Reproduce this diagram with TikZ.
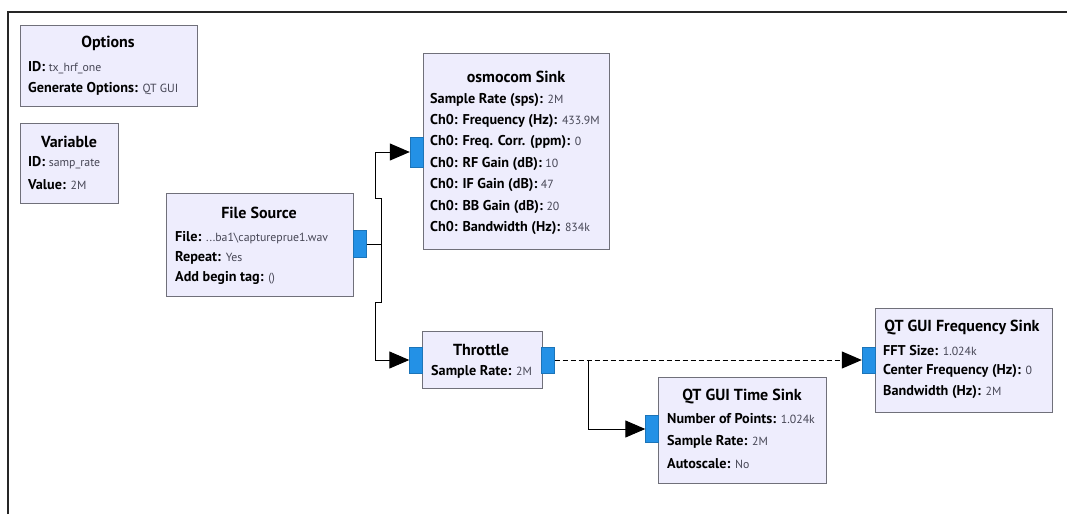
\documentclass[tikz,border=0pt]{standalone}
\usepackage{fontspec}
\setmainfont{PT Sans}
\usetikzlibrary{arrows.meta}
\definecolor{blockfill}{RGB}{238,237,253}
\definecolor{blockline}{RGB}{112,112,122}
\definecolor{portblue}{RGB}{35,145,230}
\definecolor{valgray}{RGB}{70,70,85}
\newcommand\fkey[1]{{\bfseries\fontsize{14.2}{16}\selectfont #1 }}
\newcommand\fval[1]{{\fontsize{11.8}{14}\selectfont\color{valgray}#1}}
\newcommand\blockat[5]{\node[blk, minimum width=#4pt, minimum height=#5pt] (#1) at (#2,#3) {};}
\newcommand\portat[5]{\node[port, minimum width=#4pt, minimum height=#5pt] (#1) at (#2,#3) {};}

\begin{document}
\begin{tikzpicture}[x=1pt,y=-1pt,
  blk/.style={draw=blockline, line width=1.2pt, fill=blockfill, anchor=north west, inner sep=0pt},
  port/.style={draw=portblue!80!black, line width=0.4pt, fill=portblue, inner sep=0pt, anchor=center},
  ttl/.style={font=\bfseries\fontsize{16}{18}\selectfont, inner sep=0pt, anchor=center},
  row/.style={inner sep=0pt, anchor=west},
  wire/.style={line width=1pt, black},
  tip/.style={-{Triangle[length=20pt,width=17pt]}}
]
\useasboundingbox (0,0) rectangle (1067,514);
\fill[white] (0,0) rectangle (1067,514);

% canvas frame
\draw[line width=2pt, black!85] (8,514) -- (8,12) -- (1067,12);

% blocks
\blockat{opt}{20}{25}{177}{81}
\blockat{var}{20}{123}{98}{80}
\blockat{fs}{166}{193}{187}{103}
\blockat{osmo}{423}{53}{186}{196}
\blockat{thr}{422}{331}{120}{57}
\blockat{ts}{658}{377}{168}{106}
\blockat{fq}{875}{308}{177}{104}

% ports
\portat{fsout}{360}{244}{13}{27}
\portat{osmoin}{416.5}{152}{13}{30}
\portat{thrin}{416}{360}{13}{26}
\portat{throut}{548}{360}{13}{26}
\portat{tsin}{652}{429}{13}{27}
\portat{fqin}{868.5}{360}{13}{26}

% Options
\node[ttl] (optt) at (108,43) {Options};
\node[row] (opt1) at (28,68) {\fkey{ID:}\fval{tx\_hrf\_one}};
\node[row] (opt2) at (28,89) {\fkey{Generate Options:}\fval{QT GUI}};

% Variable
\node[ttl] (vart) at (69,142) {Variable};
\node[row] (var1) at (28,163) {\fkey{ID:}\fval{samp\_rate}};
\node[row] (var2) at (28,185) {\fkey{Value:}\fval{2M}};

% File Source
\node[ttl] (fst) at (259,213) {File Source};
\node[row] (fs1) at (175,238) {\fkey{File:}\fval{...ba1\textbackslash captureprue1.wav}};
\node[row] (fs2) at (175,258) {\fkey{Repeat:}\fval{Yes}};
\node[row] (fs3) at (175,278) {\fkey{Add begin tag:}\fval{()}};

% osmocom Sink
\node[ttl] (osmot) at (516,77) {osmocom Sink};
\node[row] (os1) at (430,100) {\fkey{Sample Rate (sps):}\fval{2M}};
\node[row] (os2) at (430,121) {\fkey{Ch0: Frequency (Hz):}\fval{433.9M}};
\node[row] (os3) at (430,142) {\fkey{Ch0: Freq. Corr. (ppm):}\fval{0}};
\node[row] (os4) at (430,164) {\fkey{Ch0: RF Gain (dB):}\fval{10}};
\node[row] (os5) at (430,185) {\fkey{Ch0: IF Gain (dB):}\fval{47}};
\node[row] (os6) at (430,207) {\fkey{Ch0: BB Gain (dB):}\fval{20}};
\node[row] (os7) at (430,228) {\fkey{Ch0: Bandwidth (Hz):}\fval{834k}};

% Throttle
\node[ttl] (thrt) at (481,350) {Throttle};
\node[row] (thr1) at (431,372) {\fkey{Sample Rate:}\fval{2M}};

% QT GUI Time Sink
\node[ttl] (tst) at (742,397) {QT GUI Time Sink};
\node[row] (ts1) at (667,419) {\fkey{Number of Points:}\fval{1.024k}};
\node[row] (ts2) at (667,442) {\fkey{Sample Rate:}\fval{2M}};
\node[row] (ts3) at (667,464) {\fkey{Autoscale:}\fval{No}};

% QT GUI Frequency Sink
\node[ttl] (fqt) at (962,328) {QT GUI Frequency Sink};
\node[row] (fq1) at (883,351) {\fkey{FFT Size:}\fval{1.024k}};
\node[row] (fq2) at (883,371) {\fkey{Center Frequency (Hz):}\fval{0}};
\node[row] (fq3) at (883,392) {\fkey{Bandwidth (Hz):}\fval{2M}};

% connections
\draw[wire, tip] (fsout.east) -- (381,244) -- (381,198) -- (375,198) |- (osmoin.west);
\draw[wire, tip] (fsout.east) -- (381,244) -- (381,302) -- (375,302) |- (thrin.west);
\draw[wire, tip, dash pattern=on 5pt off 3pt] (throut.east) -- (fqin.west);
\coordinate (tap) at (588,360);
\draw[wire, tip] (tap) |- (tsin.west);
\end{tikzpicture}
\end{document}
